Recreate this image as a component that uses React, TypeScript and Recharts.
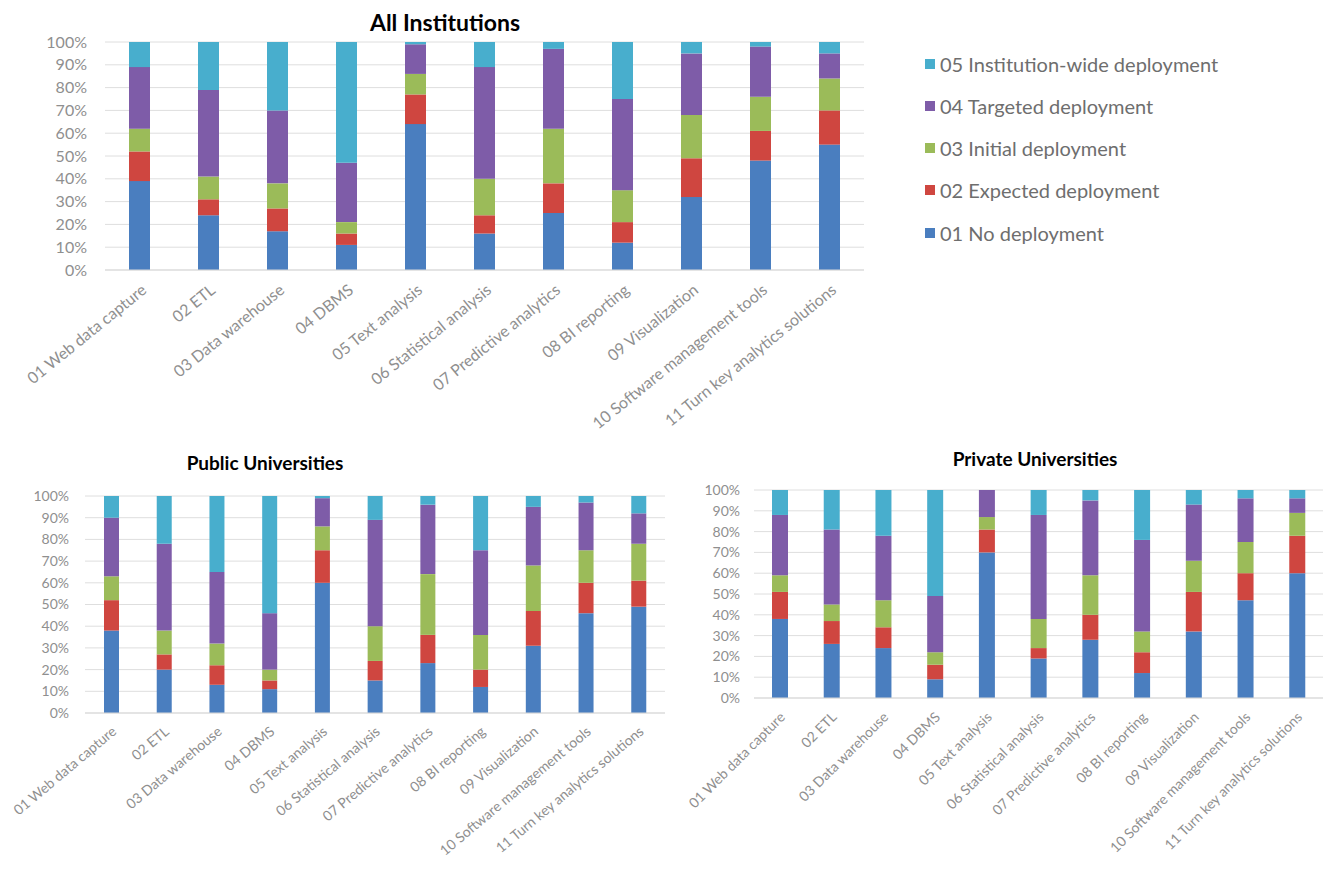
import React from 'react';
import { BarChart, Bar, XAxis, YAxis, CartesianGrid } from 'recharts';

const categories = [
  '01 Web data capture',
  '02 ETL',
  '03 Data warehouse',
  '04 DBMS',
  '05 Text analysis',
  '06 Statistical analysis',
  '07 Predictive analytics',
  '08 BI reporting',
  '09 Visualization',
  '10 Software management tools',
  '11 Turn key analytics solutions',
];

const yTicks = [0, 10, 20, 30, 40, 50, 60, 70, 80, 90, 100];

// All Institutions (percent of each stage)
const allNone = [39, 24, 17, 11, 64, 16, 25, 12, 32, 48, 55];
const allExpected = [13, 7, 10, 5, 13, 8, 13, 9, 17, 13, 15];
const allInitial = [10, 10, 11, 5, 9, 16, 24, 14, 19, 15, 14];
const allTargeted = [27, 38, 32, 26, 13, 49, 35, 40, 27, 22, 11];
const allWide = [11, 21, 30, 53, 1, 11, 3, 25, 5, 2, 5];

// Public Universities
const pubNone = [38, 20, 13, 11, 60, 15, 23, 12, 31, 46, 49];
const pubExpected = [14, 7, 9, 4, 15, 9, 13, 8, 16, 14, 12];
const pubInitial = [11, 11, 10, 5, 11, 16, 28, 16, 21, 15, 17];
const pubTargeted = [27, 40, 33, 26, 13, 49, 32, 39, 27, 22, 14];
const pubWide = [10, 22, 35, 54, 1, 11, 4, 25, 5, 3, 8];

// Private Universities
const privNone = [38, 26, 24, 9, 70, 19, 28, 12, 32, 47, 60];
const privExpected = [13, 11, 10, 7, 11, 5, 12, 10, 19, 13, 18];
const privInitial = [8, 8, 13, 6, 6, 14, 19, 10, 15, 15, 11];
const privTargeted = [29, 36, 31, 27, 13, 50, 36, 44, 27, 21, 7];
const privWide = [12, 19, 22, 51, 0, 12, 5, 24, 7, 4, 4];

const seriesKeys = ['s01', 's02', 's03', 's04', 's05'];
const seriesNames = [
  '01 No deployment',
  '02 Expected deployment',
  '03 Initial deployment',
  '04 Targeted deployment',
  '05 Institution-wide deployment',
];
const seriesColors = ['#4A7EBF', '#CF4640', '#9BBB59', '#7E5CA8', '#48AECD'];

const FONT = 'Lato, "Liberation Sans", sans-serif';

function buildData(cols: number[][]) {
  return categories.map((name, i) => {
    const row: Record<string, string | number> = { name };
    seriesKeys.forEach((k, j) => {
      row[k] = cols[j][i];
    });
    return row;
  });
}

const allData = buildData([allNone, allExpected, allInitial, allTargeted, allWide]);
const pubData = buildData([pubNone, pubExpected, pubInitial, pubTargeted, pubWide]);
const privData = buildData([privNone, privExpected, privInitial, privTargeted, privWide]);

function makeTick(fontSize: number, dx: number, dy: number, angle: number) {
  return (props: any) => {
    const { x, y, payload } = props;
    const ax = x + dx;
    const ay = y + dy;
    return (
      <text
        x={ax}
        y={ay}
        textAnchor="end"
        fill="#8f8f8f"
        fontSize={fontSize}
        fontFamily={FONT}
        transform={`rotate(${angle} ${ax} ${ay})`}
      >
        {payload.value}
      </text>
    );
  };
}

interface StackProps {
  data: Record<string, string | number>[];
  width: number;
  height: number;
  margin: { top: number; right: number; left: number; bottom: number };
  yWidth: number;
  xHeight: number;
  barSize: number;
  tickFont: number;
  yFont: number;
  yGap: number;
  tickDx: number;
  tickDy: number;
  angle: number;
}

function StackChart(p: StackProps) {
  return (
    <BarChart width={p.width} height={p.height} data={p.data} margin={p.margin} barSize={p.barSize}>
      <CartesianGrid vertical={false} stroke="#dedede" />
      <XAxis
        dataKey="name"
        interval={0}
        height={p.xHeight}
        tickLine={false}
        axisLine={{ stroke: '#d9d9d9' }}
        tick={makeTick(p.tickFont, p.tickDx, p.tickDy, p.angle)}
      />
      <YAxis
        width={p.yWidth}
        domain={[0, 100]}
        ticks={yTicks}
        interval={0}
        tickFormatter={(v: number) => `${v}%`}
        axisLine={false}
        tickLine={false}
        tickSize={0}
        tickMargin={p.yGap}
        tick={{ fill: '#8f8f8f', fontSize: p.yFont, fontFamily: FONT }}
      />
      {seriesKeys.map((k, j) => (
        <Bar
          key={k}
          dataKey={k}
          name={seriesNames[j]}
          stackId="a"
          fill={seriesColors[j]}
          isAnimationActive={false}
        />
      ))}
    </BarChart>
  );
}

const titleStyle: React.CSSProperties = {
  position: 'absolute',
  fontFamily: FONT,
  fontWeight: 700,
  color: '#000',
  transform: 'translate(-50%, -50%)',
  whiteSpace: 'nowrap',
};

export default function App() {
  const legendOrder = [4, 3, 2, 1, 0];
  const legendY = [64, 106, 148, 190, 233];
  return (
    <div
      style={{
        position: 'absolute',
        left: 0,
        top: 0,
        width: 1331,
        height: 891,
        background: '#fff',
        overflow: 'hidden',
      }}
    >
      <div style={{ ...titleStyle, left: 445, top: 22, fontSize: 23 }}>All Institutions</div>
      <div style={{ ...titleStyle, left: 265, top: 462, fontSize: 19 }}>Public Universities</div>
      <div style={{ ...titleStyle, left: 1035, top: 458, fontSize: 19 }}>Private Universities</div>

      <div style={{ position: 'absolute', left: 0, top: 0 }}>
        <StackChart
          data={allData}
          width={880}
          height={450}
          margin={{ top: 42, right: 16, left: 0, bottom: 0 }}
          yWidth={105}
          xHeight={180}
          barSize={21}
          tickFont={16}
          yFont={16}
          yGap={18}
          tickDx={8}
          tickDy={14}
          angle={-39}
        />
      </div>

      <div style={{ position: 'absolute', left: 0, top: 480 }}>
        <StackChart
          data={pubData}
          width={680}
          height={411}
          margin={{ top: 16, right: 15, left: 0, bottom: 0 }}
          yWidth={85}
          xHeight={178}
          barSize={15}
          tickFont={14}
          yFont={14}
          yGap={16}
          tickDx={6}
          tickDy={12}
          angle={-40}
        />
      </div>

      <div style={{ position: 'absolute', left: 668, top: 475 }}>
        <StackChart
          data={privData}
          width={663}
          height={416}
          margin={{ top: 15, right: 8, left: 0, bottom: 0 }}
          yWidth={86}
          xHeight={193}
          barSize={16}
          tickFont={14}
          yFont={14}
          yGap={14}
          tickDx={6}
          tickDy={12}
          angle={-45}
        />
      </div>

      {legendOrder.map((j, r) => (
        <div
          key={seriesKeys[j]}
          style={{
            position: 'absolute',
            left: 925,
            top: legendY[r],
            transform: 'translateY(-50%)',
            display: 'flex',
            alignItems: 'center',
            fontFamily: FONT,
            fontSize: 20,
            color: '#6e6e6e',
            whiteSpace: 'nowrap',
          }}
        >
          <span
            style={{
              display: 'inline-block',
              width: 10,
              height: 10,
              background: seriesColors[j],
              marginRight: 5,
            }}
          />
          {seriesNames[j]}
        </div>
      ))}
    </div>
  );
}
